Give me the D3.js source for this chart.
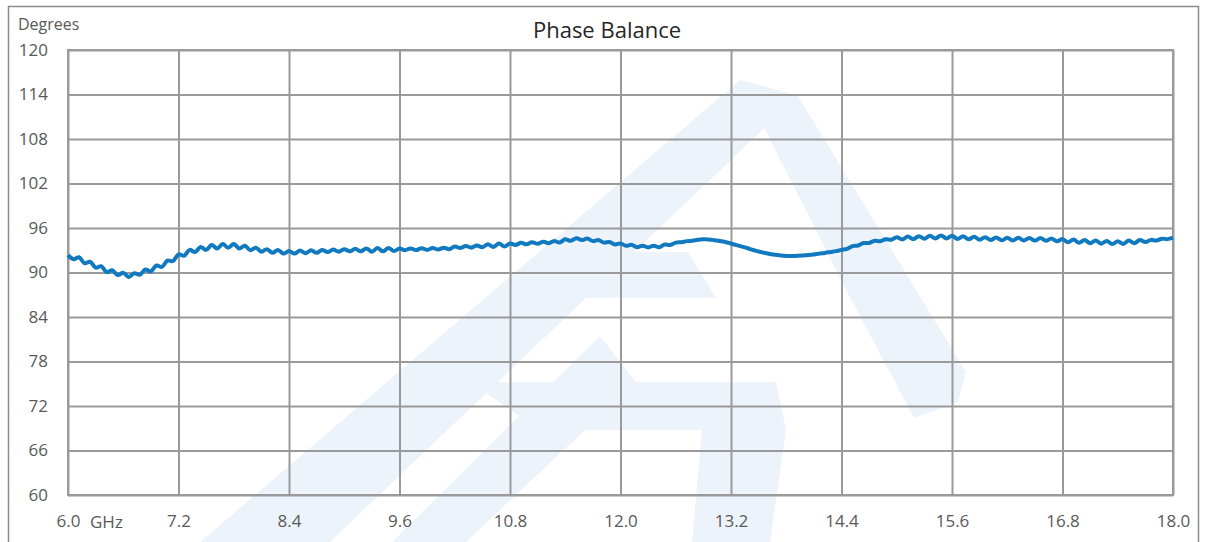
<!DOCTYPE html>
<html>
<head>
<meta charset="utf-8">
<script src="https://cdn.jsdelivr.net/npm/d3@7"></script>
<style>
  html, body { margin: 0; padding: 0; background: #fff; }
  #chart { width: 1206px; height: 542px; }
  text { font-family: "Open Sans", "Noto Sans", sans-serif; }
</style>
</head>
<body>
<div id="chart"></div>
<script>
// Sweep: 6.0 .. 18.0 GHz, one sample every 0.06 GHz
const freqStart = 6.0;
const freqStep = 0.06;

// Phase balance (degrees), 10 samples per row (0.6 GHz)
const phaseValues = [
  92.35, 91.8, 92.05, 91.25, 91.45, 90.65, 90.85, 90.05, 90.3, 89.65,
  89.95, 89.4, 89.9, 89.7, 90.4, 90.15, 90.95, 90.75, 91.6, 91.55,
  92.45, 92.25, 93.05, 92.75, 93.45, 93.05, 93.7, 93.25, 93.85, 93.35,
  93.85, 93.25, 93.6, 93.0, 93.35, 92.8, 93.15, 92.65, 93.05, 92.55,
  92.9, 92.55, 92.95, 92.6, 93.0, 92.65, 93.05, 92.75, 93.1, 92.8,
  93.15, 92.85, 93.2, 92.85, 93.25, 92.8, 93.3, 92.85, 93.3, 92.9,
  93.22, 93.0, 93.25, 93.02, 93.28, 93.05, 93.3, 93.1, 93.35, 93.15,
  93.52, 93.3, 93.58, 93.35, 93.65, 93.4, 93.8, 93.45, 93.9, 93.5,
  93.92, 93.72, 94.0, 93.8, 94.08, 93.88, 94.15, 93.95, 94.25, 94.05,
  94.47, 94.28, 94.62, 94.38, 94.57, 94.23, 94.37, 94.03, 94.12, 93.78,
  93.92, 93.6, 93.74, 93.41, 93.62, 93.38, 93.62, 93.4, 93.77, 93.7,
  94.03, 94.08, 94.23, 94.28, 94.42, 94.48, 94.46, 94.36, 94.26, 94.12,
  93.9, 93.69, 93.48, 93.27, 93.03, 92.84, 92.66, 92.5, 92.4, 92.3,
  92.23, 92.21, 92.25, 92.3, 92.36, 92.44, 92.55, 92.64, 92.76, 92.88,
  93.05, 93.18, 93.55, 93.64, 93.98, 93.98, 94.28, 94.22, 94.48, 94.42,
  94.75, 94.45, 94.85, 94.5, 94.9, 94.55, 94.95, 94.6, 95.0, 94.6,
  94.95, 94.52, 94.88, 94.48, 94.82, 94.42, 94.76, 94.38, 94.72, 94.34,
  94.68, 94.32, 94.68, 94.32, 94.66, 94.3, 94.64, 94.28, 94.6, 94.22,
  94.5, 94.07, 94.44, 94.0, 94.38, 93.95, 94.32, 93.89, 94.26, 93.83,
  94.2, 93.85, 94.3, 93.95, 94.38, 94.1, 94.4, 94.3, 94.56, 94.5,
  94.7
];

const xTicks = [6.0, 7.2, 8.4, 9.6, 10.8, 12.0, 13.2, 14.4, 15.6, 16.8, 18.0];
const yTicks = [60, 66, 72, 78, 84, 90, 96, 102, 108, 114, 120];

const title = "Phase Balance";
const yUnit = "Degrees";
const xUnit = "GHz";

const width = 1206;
const height = 542;
const margin = { top: 50, right: 33, bottom: 47, left: 68 };
const innerWidth = width - margin.left - margin.right;
const innerHeight = height - margin.top - margin.bottom;

const data = phaseValues.map((v, i) => ({ f: freqStart + i * freqStep, v }));

const svg = d3
  .select("#chart")
  .append("svg")
  .attr("width", width)
  .attr("height", height)
  .attr("viewBox", [0, 0, width, height]);

// faint logo watermark behind everything
const wm = svg.append("g").attr("fill", "#edf3fa");
const wmShapes = [
  [[200, 542], [330, 542], [798, 96], [740, 80]],
  [[740, 80], [798, 96], [966, 372], [958, 402], [914, 418], [842, 282]],
  [[392, 542], [466, 542], [636, 382], [600, 336]],
  [[470, 382], [776, 382], [786, 430], [540, 430]],
  [[702, 430], [786, 430], [770, 542], [692, 542]],
  [[596, 252], [688, 252], [716, 298], [566, 298]],
];
wm.selectAll("path")
  .data(wmShapes)
  .join("path")
  .attr("d", (d) => d3.line()(d) + "Z");

// outer frame (runs past the bottom edge)
svg.append("path")
  .attr("d", "M8.5,542 V6.5 H1198.5 V542")
  .attr("fill", "none")
  .attr("stroke", "#8c8c8c")
  .attr("stroke-width", 1.5);

const group = svg.append("g").attr("transform", `translate(${margin.left},${margin.top})`);

const x = d3.scaleLinear().domain([6, 18]).range([0, innerWidth]);
const y = d3.scaleLinear().domain([60, 120]).range([innerHeight, 0]);

// horizontal grid + y labels
group.append("g")
  .call(d3.axisLeft(y).tickValues(yTicks).tickSize(-innerWidth).tickPadding(20).tickFormat(d3.format("d")))
  .call((g) => g.select(".domain").remove())
  .call((g) => g.selectAll(".tick line").attr("stroke", "#9a9a9a").attr("stroke-width", 2))
  .call((g) => g.selectAll(".tick text")
    .attr("fill", "#595959")
    .style("font-size", "17px")
    .style("font-family", "'Open Sans', sans-serif"));

// vertical grid + x labels
group.append("g")
  .attr("transform", `translate(0,${innerHeight})`)
  .call(d3.axisBottom(x).tickValues(xTicks).tickSize(-innerHeight).tickPadding(20).tickFormat(d3.format(".1f")))
  .call((g) => g.select(".domain").remove())
  .call((g) => g.selectAll(".tick line").attr("stroke", "#9a9a9a").attr("stroke-width", 2))
  .call((g) => g.selectAll(".tick text")
    .attr("fill", "#595959")
    .style("font-size", "17px")
    .style("font-family", "'Open Sans', sans-serif"));

// plot border
group.append("rect")
  .attr("width", innerWidth)
  .attr("height", innerHeight)
  .attr("fill", "none")
  .attr("stroke", "#9a9a9a")
  .attr("stroke-width", 2);

const line = d3.line()
  .x((d) => x(d.f))
  .y((d) => y(d.v))
  .curve(d3.curveCatmullRom);

group.append("path")
  .datum(data)
  .attr("fill", "none")
  .attr("stroke", "#1179c0")
  .attr("stroke-width", 4)
  .attr("stroke-linejoin", "round")
  .attr("d", line);

svg.append("text")
  .attr("x", 607)
  .attr("y", 38)
  .attr("text-anchor", "middle")
  .attr("fill", "#262626")
  .style("font-size", "22px")
  .text(title);

svg.append("text")
  .attr("x", 18)
  .attr("y", 30)
  .attr("fill", "#595959")
  .style("font-size", "16px")
  .text(yUnit);

svg.append("text")
  .attr("x", 90)
  .attr("y", 528)
  .attr("fill", "#595959")
  .style("font-size", "17px")
  .text(xUnit);
</script>
</body>
</html>
